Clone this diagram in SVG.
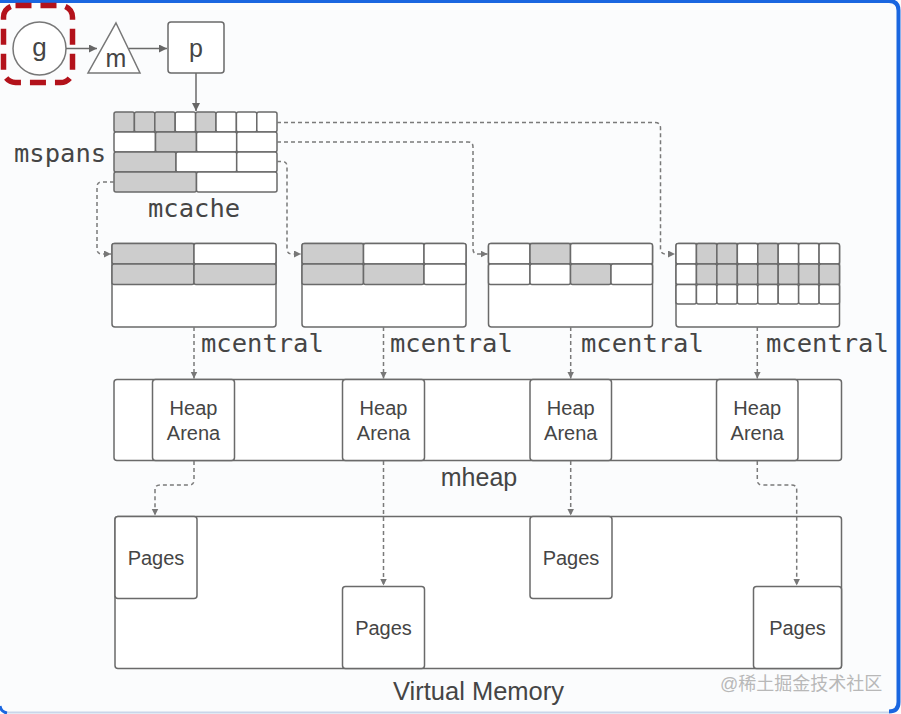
<svg xmlns="http://www.w3.org/2000/svg" width="901" height="714" viewBox="0 0 901 714">
<defs>
<style>
.bx{fill:#fff;stroke:#6a6a6a;stroke-width:1.5}
.g{fill:#cdcdcd;stroke:#6a6a6a;stroke-width:1.5}
.w{fill:#fff;stroke:#6a6a6a;stroke-width:1.5}
.sans{font-family:"Liberation Sans",Arial,sans-serif;fill:#454545}
.mono{font-family:"DejaVu Sans Mono","Liberation Mono",monospace;fill:#454545;font-size:25.5px}
.dash{fill:none;stroke:#7a7a7a;stroke-width:1.5;stroke-dasharray:4 3;marker-end:url(#ad)}
.solid{fill:none;stroke:#6a6a6a;stroke-width:1.5;marker-end:url(#as)}
</style>
<marker id="ad" markerUnits="userSpaceOnUse" markerWidth="8" markerHeight="8" refX="7" refY="3.5" orient="auto"><path d="M0,0 L7,3.5 L0,7 z" fill="#777"/></marker>
<marker id="as" markerUnits="userSpaceOnUse" markerWidth="9" markerHeight="9" refX="8" refY="4" orient="auto"><path d="M0,0 L8,4 L0,8 z" fill="#666"/></marker>
</defs>
<rect x="0" y="0" width="901" height="714" fill="#fbfcfd"/>
<path d="M0,1 H889 Q898.5,1 898.5,10.5 V702 Q898.5,711.5 889,711.5" fill="none" stroke="#1a66e0" stroke-width="4"/>
<path d="M6,712.5 H889" fill="none" stroke="#c9d6ea" stroke-width="2"/>
<path d="M0,706 Q1,712 7,713" fill="none" stroke="#1a66e0" stroke-width="3"/>

<g id="g-node">
<circle cx="39.5" cy="48.5" r="26.5" fill="#fff" stroke="#777" stroke-width="1.5"/>
<text x="39.5" y="56" text-anchor="middle" class="sans" font-size="26">g</text>
<rect x="3.5" y="5.5" width="69" height="77" rx="12" fill="none" stroke="#b3121b" stroke-width="5.5" stroke-dasharray="16 9"/>
</g>
<g id="m-node">
<polygon points="116,23 140,73 88,73" fill="#fff" stroke="#777" stroke-width="1.5"/>
<text x="116" y="67" text-anchor="middle" class="sans" font-size="25">m</text>
</g>
<g id="p-node">
<rect x="168" y="22" width="56" height="51" rx="3" class="bx"/>
<text x="196" y="57" text-anchor="middle" class="sans" font-size="25">p</text>
</g>

<g id="mcache">
<rect x="114" y="112" width="20.4" height="20" rx="2" class="g"/>
<rect x="134.4" y="112" width="20.4" height="20" rx="2" class="g"/>
<rect x="154.8" y="112" width="20.4" height="20" rx="2" class="g"/>
<rect x="175.2" y="112" width="20.4" height="20" rx="2" class="w"/>
<rect x="195.6" y="112" width="20.4" height="20" rx="2" class="g"/>
<rect x="216" y="112" width="20.4" height="20" rx="2" class="w"/>
<rect x="236.4" y="112" width="20.4" height="20" rx="2" class="w"/>
<rect x="256.8" y="112" width="20.2" height="20" rx="2" class="w"/>
<rect x="114" y="132" width="41.5" height="20" rx="2" class="w"/>
<rect x="155.5" y="132" width="41" height="20" rx="2" class="g"/>
<rect x="196.5" y="132" width="40.2" height="20" rx="2" class="w"/>
<rect x="236.7" y="132" width="40.3" height="20" rx="2" class="w"/>
<rect x="114" y="152" width="62" height="20" rx="2" class="g"/>
<rect x="176" y="152" width="60.7" height="20" rx="2" class="w"/>
<rect x="236.7" y="152" width="40.3" height="20" rx="2" class="w"/>
<rect x="114" y="172" width="82.5" height="20" rx="2" class="g"/>
<rect x="196.5" y="172" width="80.5" height="20" rx="2" class="w"/>
<text x="14" y="162" class="mono">mspans</text>
<text x="148" y="217" class="mono">mcache</text>
</g>

<g id="mcentral-1">
<rect x="112" y="243.5" width="164" height="83.5" rx="3" class="bx"/>
<rect x="112" y="243.5" width="82" height="20.5" rx="2" class="g"/>
<rect x="194" y="243.5" width="82" height="20.5" rx="2" class="w"/>
<rect x="112" y="264" width="82" height="20.5" rx="2" class="g"/>
<rect x="194" y="264" width="82" height="20.5" rx="2" class="g"/>
<text x="201" y="352" class="mono">mcentral</text>
</g>
<g id="mcentral-2">
<rect x="302" y="243.5" width="164" height="83.5" rx="3" class="bx"/>
<rect x="302" y="243.5" width="61.5" height="20.5" rx="2" class="g"/>
<rect x="363.5" y="243.5" width="60.5" height="20.5" rx="2" class="w"/>
<rect x="424" y="243.5" width="42" height="20.5" rx="2" class="w"/>
<rect x="302" y="264" width="61.5" height="20.5" rx="2" class="g"/>
<rect x="363.5" y="264" width="60.5" height="20.5" rx="2" class="g"/>
<rect x="424" y="264" width="42" height="20.5" rx="2" class="w"/>
<text x="390" y="352" class="mono">mcentral</text>
</g>
<g id="mcentral-3">
<rect x="488.5" y="243.5" width="164" height="83.5" rx="3" class="bx"/>
<rect x="488.5" y="243.5" width="41.5" height="20.5" rx="2" class="w"/>
<rect x="530" y="243.5" width="40.5" height="20.5" rx="2" class="g"/>
<rect x="570.5" y="243.5" width="82" height="20.5" rx="2" class="w"/>
<rect x="488.5" y="264" width="41.5" height="20.5" rx="2" class="w"/>
<rect x="530" y="264" width="40.5" height="20.5" rx="2" class="w"/>
<rect x="570.5" y="264" width="40.5" height="20.5" rx="2" class="g"/>
<rect x="611" y="264" width="41.5" height="20.5" rx="2" class="w"/>
<text x="581" y="352" class="mono">mcentral</text>
</g>
<g id="mcentral-4">
<rect x="676" y="243.5" width="163.5" height="83.5" rx="3" class="bx"/>
<rect x="676" y="243.5" width="20.44" height="20.5" rx="2" class="w"/>
<rect x="696.44" y="243.5" width="20.44" height="20.5" rx="2" class="g"/>
<rect x="716.88" y="243.5" width="20.44" height="20.5" rx="2" class="g"/>
<rect x="737.32" y="243.5" width="20.44" height="20.5" rx="2" class="w"/>
<rect x="757.76" y="243.5" width="20.44" height="20.5" rx="2" class="g"/>
<rect x="778.2" y="243.5" width="20.44" height="20.5" rx="2" class="w"/>
<rect x="798.64" y="243.5" width="20.44" height="20.5" rx="2" class="w"/>
<rect x="819.08" y="243.5" width="20.42" height="20.5" rx="2" class="w"/>
<rect x="676" y="264" width="20.44" height="20.5" rx="2" class="w"/>
<rect x="696.44" y="264" width="20.44" height="20.5" rx="2" class="g"/>
<rect x="716.88" y="264" width="20.44" height="20.5" rx="2" class="g"/>
<rect x="737.32" y="264" width="20.44" height="20.5" rx="2" class="g"/>
<rect x="757.76" y="264" width="20.44" height="20.5" rx="2" class="g"/>
<rect x="778.2" y="264" width="20.44" height="20.5" rx="2" class="g"/>
<rect x="798.64" y="264" width="20.44" height="20.5" rx="2" class="g"/>
<rect x="819.08" y="264" width="20.42" height="20.5" rx="2" class="g"/>
<rect x="676" y="284.5" width="20.44" height="19.5" rx="2" class="w"/>
<rect x="696.44" y="284.5" width="20.44" height="19.5" rx="2" class="w"/>
<rect x="716.88" y="284.5" width="20.44" height="19.5" rx="2" class="w"/>
<rect x="737.32" y="284.5" width="20.44" height="19.5" rx="2" class="w"/>
<rect x="757.76" y="284.5" width="20.44" height="19.5" rx="2" class="w"/>
<rect x="778.2" y="284.5" width="20.44" height="19.5" rx="2" class="w"/>
<rect x="798.64" y="284.5" width="20.44" height="19.5" rx="2" class="w"/>
<rect x="819.08" y="284.5" width="20.42" height="19.5" rx="2" class="w"/>
<text x="766" y="352" class="mono">mcentral</text>
</g>

<g id="mheap">
<rect x="114" y="379.5" width="727.5" height="81" rx="3" class="bx"/>
<text x="479" y="486" text-anchor="middle" class="sans" font-size="25">mheap</text>
</g>
<g id="arena-1">
<rect x="152.5" y="379.5" width="82" height="81" rx="3" class="bx"/>
<text x="193.5" y="415" text-anchor="middle" class="sans" font-size="20">Heap</text>
<text x="193.5" y="440" text-anchor="middle" class="sans" font-size="20">Arena</text>
</g>
<g id="arena-2">
<rect x="342.5" y="379.5" width="82" height="81" rx="3" class="bx"/>
<text x="383.5" y="415" text-anchor="middle" class="sans" font-size="20">Heap</text>
<text x="383.5" y="440" text-anchor="middle" class="sans" font-size="20">Arena</text>
</g>
<g id="arena-3">
<rect x="530" y="379.5" width="81.5" height="81" rx="3" class="bx"/>
<text x="570.75" y="415" text-anchor="middle" class="sans" font-size="20">Heap</text>
<text x="570.75" y="440" text-anchor="middle" class="sans" font-size="20">Arena</text>
</g>
<g id="arena-4">
<rect x="716.5" y="379.5" width="81.5" height="81" rx="3" class="bx"/>
<text x="757.25" y="415" text-anchor="middle" class="sans" font-size="20">Heap</text>
<text x="757.25" y="440" text-anchor="middle" class="sans" font-size="20">Arena</text>
</g>

<g id="virtual-memory">
<rect x="115" y="516.5" width="726.5" height="152" rx="3" class="bx"/>
<text x="478.5" y="700" text-anchor="middle" class="sans" font-size="25.5">Virtual Memory</text>
</g>
<g id="pages-1">
<rect x="115" y="516.5" width="82" height="82" rx="3" class="bx"/>
<text x="156" y="565" text-anchor="middle" class="sans" font-size="20">Pages</text>
</g>
<g id="pages-2">
<rect x="342.5" y="586.5" width="82" height="82" rx="3" class="bx"/>
<text x="383.5" y="635" text-anchor="middle" class="sans" font-size="20">Pages</text>
</g>
<g id="pages-3">
<rect x="530" y="516.5" width="82" height="82" rx="3" class="bx"/>
<text x="571" y="565" text-anchor="middle" class="sans" font-size="20">Pages</text>
</g>
<g id="pages-4">
<rect x="753.5" y="586.5" width="88" height="82" rx="3" class="bx"/>
<text x="797.5" y="635" text-anchor="middle" class="sans" font-size="20">Pages</text>
</g>

<g id="connectors">
<path class="solid" d="M66,48.5 H97"/>
<path class="solid" d="M129,48.5 H167"/>
<path class="solid" d="M196,73 V111"/>
<path class="dash" d="M277,122.5 H655 Q660.5,122.5 660.5,128 V249 Q660.5,254 666,254 H675"/>
<path class="dash" d="M277,142 H468 Q473,142 473,147 V249 Q473,254 478,254 H487.5"/>
<path class="dash" d="M277,161.5 H282 Q287,161.5 287,166.5 V249 Q287,254 292,254 H301"/>
<path class="dash" d="M114,182 H102 Q97,182 97,187 V249 Q97,254 102,254 H111"/>
<path class="dash" d="M194,327 V378.5"/>
<path class="dash" d="M383.5,327 V378.5"/>
<path class="dash" d="M570.7,327 V378.5"/>
<path class="dash" d="M757.3,327 V378.5"/>
<path class="dash" d="M194,461 V480 Q194,485 189,485 H160 Q155,485 155,490 V515.5"/>
<path class="dash" d="M383.5,461 V585.5"/>
<path class="dash" d="M570.7,461 V515.5"/>
<path class="dash" d="M757.3,461 V480 Q757.3,485 762.3,485 H791.7 Q796.7,485 796.7,490 V585.5"/>
</g>

<text x="720" y="690" font-family="'Liberation Sans','Noto Sans CJK SC',sans-serif" font-size="18" fill="#b8b8b8">@稀土掘金技术社区</text>
</svg>
